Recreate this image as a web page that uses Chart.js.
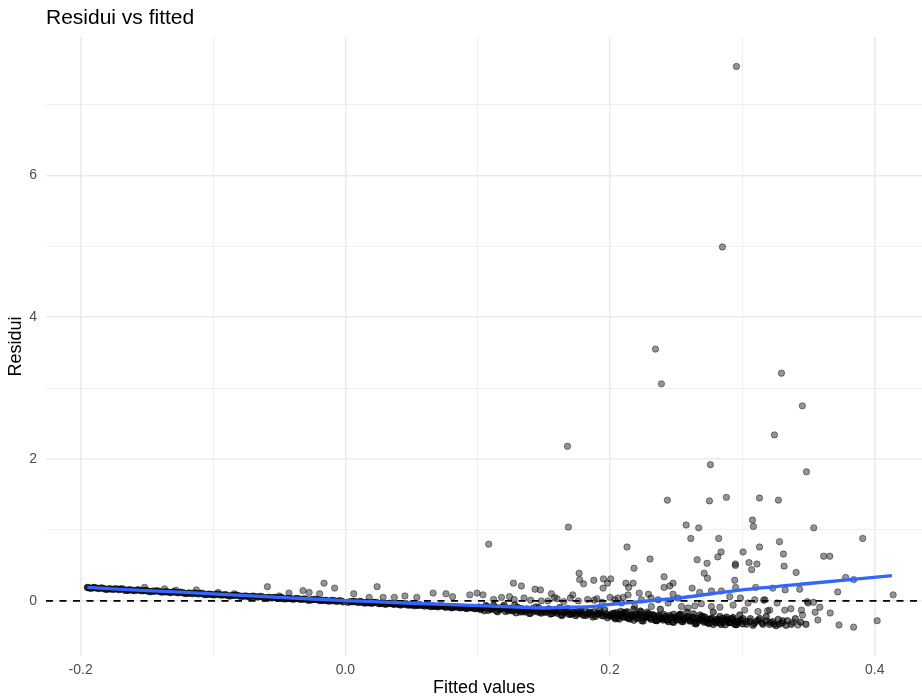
<!DOCTYPE html>
<html><head><meta charset="utf-8">
<script src="https://cdn.jsdelivr.net/npm/chart.js@4.4.1/dist/chart.umd.min.js"></script>
<style>html,body{margin:0;padding:0;background:#fff;overflow:hidden}</style>
</head><body>
<canvas id="c" width="922" height="697"></canvas>
<script>
// ---- axis settings ----
const xMajorTicks = [-0.2, 0.0, 0.2, 0.4];
const yMajorTicks = [0, 2, 4, 6];
const xLimits = [-0.2262, 0.4357];
const yLimits = [-0.777, 7.95];

// ---- scattered residuals ----
const outlierFitted = [-0.1944,-0.1902,-0.170,-0.1638,-0.1517,-0.1366,-0.128,-0.1126,-0.0962,-0.084,-0.0589,-0.050,-0.0426,-0.032,-0.0274,-0.0194,-0.0161,-0.0081,
0.0063,0.018,0.024,0.0285,0.037,0.045,0.054,0.0663,0.076,0.081,0.094,0.0995,0.104,0.1083,0.112,0.118,0.124,0.127,0.1275,0.133,0.135,0.140,0.1433,0.1474,0.148,0.153,0.1557,0.158,0.160,0.165,0.1678,0.1685,0.170,0.1718,0.176,0.1766,0.177,0.180,0.183,0.1877,0.188,0.190,0.194,0.1947,0.195,0.198,0.200,0.2005,0.2035,0.206,0.2086,0.210,0.212,0.2128,0.2136,0.214,0.2174,0.2181,0.2186,0.222,0.2237,0.229,0.2302,0.231,0.2312,0.2343,0.2363,0.2388,0.2408,0.2408,0.2433,0.2439,0.2451,0.2476,0.2476,0.2514,0.254,0.2575,0.259,0.261,0.262,0.264,0.2658,0.267,0.2677,0.269,0.2711,0.2733,0.2736,0.2751,0.2758,0.2766,0.2766,0.2814,0.2821,0.283,0.2839,0.2841,0.2849,0.2879,0.2904,0.2942,0.2947,0.2947,0.2949,0.293,0.2955,0.2985,0.3005,0.3017,0.3043,0.305,0.307,0.3076,0.3083,0.3093,0.310,0.311,0.3118,0.3129,0.3129,0.316,0.317,0.319,0.3206,0.3229,0.3242,0.3262,0.3272,0.328,0.3295,0.331,0.3315,0.332,0.3323,0.3366,0.3383,0.3406,0.342,0.3433,0.3446,0.3453,0.3454,0.3484,0.349,0.3497,0.3537,0.3539,0.355,0.357,0.3585,0.3614,0.366,0.3663,0.372,0.373,0.378,0.3841,0.384,0.3909,0.4018,0.4139];
const outlierResid = [0.19,0.19,0.17,0.155,0.19,0.17,0.15,0.155,0.12,0.10,0.20,0.07,0.11,0.145,0.12,0.10,0.25,0.18,
0.10,0.05,0.20,0.05,0.05,0.07,0.05,0.11,0.10,0.06,0.085,0.11,0.085,0.80,0.02,0.05,0.06,0.25,0.02,0.21,0.04,0.01,0.165,0.155,0.0,0.0,0.10,0.05,0.03,-0.01,2.18,1.04,0.04,0.085,0.0,0.39,0.30,0.24,0.02,0.29,0.01,0.03,-0.02,0.18,0.31,0.25,0.05,0.31,0.015,0.04,-0.03,0.05,0.25,0.76,0.085,0.19,0.25,0.46,-0.08,0.11,0.015,0.095,0.59,0.04,-0.08,3.55,0.015,3.06,0.34,0.19,1.42,-0.03,0.21,0.25,0.094,0.04,-0.08,1.07,-0.10,0.88,0.18,-0.07,0.58,1.03,0.12,-0.04,0.39,0.53,0.32,1.41,1.92,0.14,-0.08,0.62,0.88,-0.09,0.69,0.14,4.99,1.46,0.06,0.29,0.52,0.50,0.19,-0.06,7.535,0.04,0.69,-0.13,-0.03,0.54,0.44,1.14,1.05,0.015,0.19,0.52,-0.15,1.45,0.76,0.01,0.015,-0.14,-0.13,0.18,2.34,-0.03,1.42,0.835,3.21,0.66,0.49,-0.13,0.155,-0.11,-0.30,0.40,-0.34,0.165,-0.13,2.75,-0.20,1.82,-0.01,-0.03,-0.02,1.03,-0.16,-0.27,-0.09,0.63,0.63,-0.17,0.127,-0.34,0.33,0.30,-0.37,0.88,-0.28,0.085];

// ---- dense band of residuals ----
const bandFitted = [-0.195,-0.192,-0.189,-0.186,-0.183,-0.180,-0.177,-0.174,-0.171,-0.168,-0.165,-0.162,-0.159,-0.156,-0.153,-0.150,-0.147,-0.144,-0.141,-0.138,-0.135,-0.132,-0.129,-0.126,-0.123,-0.120,-0.117,-0.114,-0.111,-0.108,-0.105,-0.102,-0.099,-0.096,-0.093,-0.090,-0.087,-0.084,-0.081,-0.078,-0.075,-0.072,-0.069,-0.066,-0.063,-0.060,-0.057,-0.054,-0.051,-0.048,-0.045,-0.042,-0.039,-0.036,-0.033,-0.030,-0.027,-0.024,-0.021,-0.018,-0.015,-0.012,-0.009,-0.006,-0.003,
-0.1935,-0.1905,-0.1875,-0.1845,-0.1815,-0.1785,-0.1755,-0.1725,-0.1695,-0.1665,-0.1635,-0.1605,-0.1575,-0.1545,-0.1515,-0.1485,-0.1455,-0.1425,-0.1395,-0.1365,-0.1335,-0.1305,-0.1275,-0.1245,-0.1215,-0.1185,-0.1155,-0.1125,-0.1095,-0.1065,-0.1035,-0.1005,-0.0975,-0.0945,-0.0915,-0.0885,-0.0855,-0.0825,-0.0795,-0.0765,-0.0735,-0.0705,-0.0675,-0.0645,-0.0615,-0.0585,-0.0555,-0.0525,-0.0495,-0.0465,-0.0435,-0.0405,-0.0375,-0.0345,-0.0315,-0.0285,-0.0255,-0.0225,-0.0195,-0.0165,-0.0135,-0.0105,-0.0075,-0.0045,-0.0015,
0.002,0.005,0.007,0.010,0.012,0.015,0.017,0.020,0.022,0.025,0.027,0.030,0.032,0.035,0.037,0.040,0.042,0.045,0.047,0.050,0.052,0.055,0.057,0.060,0.062,0.065,0.067,0.070,0.072,0.075,0.077,0.080,0.082,0.085,0.087,0.090,0.092,0.095,0.097,0.100,
0.0035,0.006,0.0085,0.011,0.0135,0.016,0.0185,0.021,0.0235,0.026,0.0285,0.031,0.0335,0.036,0.0385,0.041,0.0435,0.046,0.0485,0.051,0.0535,0.056,0.0585,0.061,0.0635,0.066,0.0685,0.071,0.0735,0.076,0.0785,0.081,0.0835,0.086,0.0885,0.091,0.0935,0.096,0.0985,
0.102,0.104,0.105,0.107,0.109,0.110,0.112,0.114,0.116,0.117,0.119,0.121,0.122,0.124,0.126,0.128,0.129,0.131,0.133,0.134,0.136,0.138,0.140,0.141,0.143,0.145,0.146,0.148,0.150,0.152,0.153,0.155,0.157,0.158,0.160,0.162,0.164,0.165,0.167,0.169,0.170,0.172,0.174,0.176,0.177,0.179,0.181,0.182,0.184,0.186,0.188,0.189,0.191,0.193,0.194,0.196,0.198,0.200,
0.101,0.103,0.106,0.108,0.111,0.113,0.115,0.118,0.120,0.123,0.125,0.127,0.130,0.132,0.135,0.137,0.139,0.142,0.144,0.147,0.149,0.151,0.154,0.156,0.159,0.161,0.163,0.166,0.168,0.171,0.173,0.175,0.178,0.180,0.183,0.185,0.187,0.190,0.192,0.195,0.197,0.199,
0.201,0.203,0.205,0.207,0.209,0.211,0.213,0.215,0.217,0.219,0.221,0.223,0.225,0.227,0.229,0.231,0.233,0.235,0.237,0.239,0.241,0.243,0.245,0.247,0.249,0.251,0.253,0.255,0.257,0.259,0.261,0.263,0.265,0.267,0.269,0.271,0.273,0.275,0.277,0.279,0.281,0.283,0.285,0.287,0.289,0.291,0.293,0.295,0.297,0.299,
0.202,0.204,0.206,0.208,0.210,0.212,0.214,0.216,0.218,0.220,0.222,0.224,0.226,0.228,0.230,0.232,0.234,0.236,0.238,0.240,0.242,0.244,0.246,0.248,0.250,0.252,0.254,0.256,0.258,0.260,0.262,0.264,0.266,0.268,0.270,0.272,0.274,0.276,0.278,0.280,0.282,0.284,0.286,0.288,0.290,0.292,0.294,0.296,0.298,0.300,
0.2005,0.203,0.2055,0.208,0.2105,0.213,0.2155,0.218,0.2205,0.223,0.2255,0.228,0.2305,0.233,0.2355,0.238,0.2405,0.243,0.2455,0.248,0.2505,0.253,0.2555,0.258,0.2605,0.263,0.2655,0.268,0.2705,0.273,0.2755,0.278,0.2805,0.283,0.2855,0.288,0.2905,0.293,0.2955,0.298,0.3005,0.303,0.3055,0.308,0.3105,0.313,0.3155,0.318,0.3205,0.323,0.3255,0.328,0.3305,0.333,
0.303,0.306,0.309,0.312,0.315,0.318,0.321,0.324,0.327,0.330,0.334,0.337,0.340,0.344,0.348];
const bandResid = [0.189,0.176,0.187,0.174,0.178,0.162,0.168,0.171,0.157,0.168,0.148,0.155,0.144,0.155,0.142,0.146,0.128,0.136,0.137,0.125,0.129,0.116,0.127,0.114,0.118,0.102,0.108,0.111,0.097,0.108,0.088,0.095,0.084,0.095,0.082,0.086,0.068,0.076,0.077,0.065,0.069,0.056,0.067,0.054,0.058,0.042,0.048,0.051,0.037,0.048,0.028,0.035,0.024,0.035,0.022,0.026,0.008,0.016,0.017,0.005,0.009,-0.004,0.007,-0.006,-0.002,
0.181,0.187,0.177,0.184,0.165,0.171,0.161,0.167,0.168,0.148,0.155,0.147,0.155,0.143,0.147,0.131,0.139,0.143,0.124,0.127,0.121,0.127,0.117,0.124,0.105,0.111,0.101,0.107,0.108,0.088,0.095,0.087,0.095,0.083,0.087,0.071,0.079,0.083,0.064,0.067,0.061,0.067,0.057,0.064,0.045,0.051,0.041,0.047,0.048,0.028,0.035,0.027,0.035,0.023,0.027,0.011,0.019,0.023,0.004,0.007,0.001,0.007,-0.004,0.004,-0.016,
-0.020,-0.014,-0.010,-0.024,-0.012,-0.032,-0.024,-0.035,-0.023,-0.036,-0.031,-0.049,-0.040,-0.039,-0.050,-0.046,-0.058,-0.047,-0.059,-0.055,-0.070,-0.064,-0.060,-0.074,-0.062,-0.082,-0.074,-0.085,-0.073,-0.086,-0.081,-0.099,-0.090,-0.089,-0.100,-0.096,-0.108,-0.097,-0.109,-0.105,
-0.012,-0.005,-0.015,-0.007,-0.026,-0.019,-0.029,-0.022,-0.021,-0.040,-0.033,-0.040,-0.032,-0.043,-0.039,-0.054,-0.046,-0.041,-0.060,-0.056,-0.062,-0.055,-0.065,-0.057,-0.076,-0.069,-0.079,-0.072,-0.071,-0.090,-0.083,-0.090,-0.082,-0.093,-0.089,-0.104,-0.096,-0.091,-0.110,
-0.122,-0.094,-0.140,-0.077,-0.109,-0.120,-0.062,-0.139,-0.101,-0.122,-0.084,-0.151,-0.117,-0.104,-0.141,-0.058,-0.169,-0.131,-0.108,-0.154,-0.156,-0.128,-0.175,-0.111,-0.143,-0.155,-0.096,-0.173,-0.135,-0.157,-0.118,-0.185,-0.152,-0.138,-0.175,-0.092,-0.204,-0.165,-0.142,-0.189,-0.190,-0.162,-0.209,-0.146,-0.177,-0.189,-0.131,-0.207,-0.169,-0.191,-0.153,-0.219,-0.186,-0.173,-0.209,-0.126,-0.238,-0.200,
-0.086,-0.113,-0.066,-0.133,-0.111,-0.088,-0.155,-0.108,-0.060,-0.138,-0.110,-0.137,-0.090,-0.157,-0.135,-0.112,-0.179,-0.132,-0.084,-0.162,-0.134,-0.161,-0.114,-0.181,-0.159,-0.136,-0.203,-0.156,-0.108,-0.186,-0.158,-0.185,-0.138,-0.205,-0.183,-0.160,-0.227,-0.180,-0.132,-0.210,-0.182,-0.209,
-0.201,-0.233,-0.165,-0.257,-0.189,-0.221,-0.153,-0.255,-0.207,-0.189,-0.241,-0.143,-0.285,-0.227,-0.179,-0.261,-0.218,-0.280,-0.202,-0.254,-0.241,-0.273,-0.205,-0.297,-0.229,-0.261,-0.193,-0.295,-0.247,-0.229,-0.281,-0.183,-0.325,-0.267,-0.219,-0.301,-0.258,-0.320,-0.242,-0.294,-0.281,-0.313,-0.245,-0.337,-0.269,-0.301,-0.233,-0.335,-0.287,-0.269,
-0.177,-0.254,-0.196,-0.148,-0.230,-0.167,-0.249,-0.211,-0.118,-0.245,-0.192,-0.279,-0.211,-0.158,-0.240,-0.192,-0.274,-0.216,-0.118,-0.270,-0.217,-0.294,-0.236,-0.188,-0.270,-0.207,-0.289,-0.251,-0.158,-0.285,-0.232,-0.319,-0.251,-0.198,-0.280,-0.232,-0.314,-0.256,-0.158,-0.310,-0.257,-0.334,-0.276,-0.228,-0.310,-0.247,-0.329,-0.291,-0.198,-0.325,
-0.211,-0.173,-0.246,-0.208,-0.161,-0.238,-0.201,-0.273,-0.201,-0.158,-0.241,-0.193,-0.241,-0.203,-0.276,-0.238,-0.191,-0.268,-0.231,-0.303,-0.231,-0.188,-0.271,-0.223,-0.271,-0.233,-0.306,-0.268,-0.221,-0.298,-0.261,-0.333,-0.261,-0.218,-0.301,-0.253,-0.301,-0.263,-0.336,-0.298,-0.251,-0.328,-0.291,-0.345,-0.291,-0.248,-0.331,-0.283,-0.331,-0.293,-0.350,-0.328,-0.281,-0.345,
-0.29,-0.25,-0.32,-0.27,-0.31,-0.22,-0.30,-0.33,-0.26,-0.31,-0.28,-0.33,-0.25,-0.30,-0.33];

// ---- smoothed trend ----
const smoothFitted = [-0.195,-0.15,-0.10,-0.05,0.0,0.05,0.10,0.13,0.15,0.17,0.185,0.20,0.25,0.30,0.35,0.413];
const smoothResid = [0.19,0.145,0.10,0.05,0.005,-0.033,-0.066,-0.088,-0.10,-0.088,-0.082,-0.05,0.037,0.155,0.245,0.355];

const zip = (xs, ys) => xs.map((x, i) => ({x: x, y: ys[i]}));
const isMajor = (list, v) => list.some(m => Math.abs(m - v) < 1e-6);

Chart.defaults.font.family = "'Liberation Sans', Arial, sans-serif";
const pointStyle = {
  pointRadius: 3.2, pointHoverRadius: 3.2, pointBorderWidth: 1,
  backgroundColor: 'rgba(0,0,0,0.42)', borderColor: 'rgba(0,0,0,0.42)'
};

new Chart(document.getElementById('c'), {
  type: 'scatter',
  data: {
    datasets: [
      { label: 'smooth', data: zip(smoothFitted, smoothResid), showLine: true, pointRadius: 0,
        borderColor: '#3366FF', borderWidth: 3.3, tension: 0.25, order: 0 },
      { label: 'zero', data: zip(xLimits, [0, 0]), showLine: true, pointRadius: 0,
        borderColor: '#000000', borderWidth: 1.7, borderDash: [7, 6.5], order: 1 },
      Object.assign({ label: 'residui', data: zip(outlierFitted, outlierResid), order: 2 }, pointStyle),
      Object.assign({ label: 'band', data: zip(bandFitted, bandResid), order: 3 }, pointStyle,
        { backgroundColor: 'rgba(0,0,0,0.58)', borderColor: 'rgba(0,0,0,0.58)' })
    ]
  },
  options: {
    responsive: false, animation: false, devicePixelRatio: 1,
    layout: { padding: 0, autoPadding: false },
    plugins: {
      legend: { display: false }, tooltip: { enabled: false },
      title: { display: true, text: 'Residui vs fitted', align: 'start', fullSize: false,
        color: '#000000', font: { size: 21, weight: 'normal' }, padding: { top: 5.4, bottom: 6.4 } }
    },
    scales: {
      x: {
        type: 'linear', min: xLimits[0], max: xLimits[1],
        border: { display: false },
        grid: { color: '#EBEBEB', drawTicks: false,
          lineWidth: c => isMajor(xMajorTicks, c.tick.value) ? 1.6 : 0.8 },
        ticks: { stepSize: 0.1, includeBounds: false, autoSkip: false, maxRotation: 0, padding: 6,
          color: '#4D4D4D', font: { size: 14 },
          callback: v => isMajor(xMajorTicks, v) ? v.toFixed(1) : '' },
        title: { display: true, text: 'Fitted values', color: '#000000', font: { size: 18 }, padding: { top: 0, bottom: -2 } },
        afterFit: s => { s.height = 41; s.paddingLeft = 0; s.paddingRight = 0; }
      },
      y: {
        type: 'linear', min: yLimits[0], max: yLimits[1],
        border: { display: false },
        grid: { color: '#EBEBEB', drawTicks: false,
          lineWidth: c => isMajor(yMajorTicks, c.tick.value) ? 1.6 : 0.8 },
        ticks: { stepSize: 1, includeBounds: false, autoSkip: false, padding: 9,
          color: '#4D4D4D', font: { size: 14 },
          callback: v => isMajor(yMajorTicks, v) ? String(Math.round(v)) : '' },
        title: { display: true, text: 'Residui', color: '#000000', font: { size: 18 }, padding: { top: 5, bottom: 0 } },
        afterFit: s => { s.width = 46; s.paddingTop = 0; s.paddingBottom = 0; }
      }
    }
  }
});
</script>
</body></html>
